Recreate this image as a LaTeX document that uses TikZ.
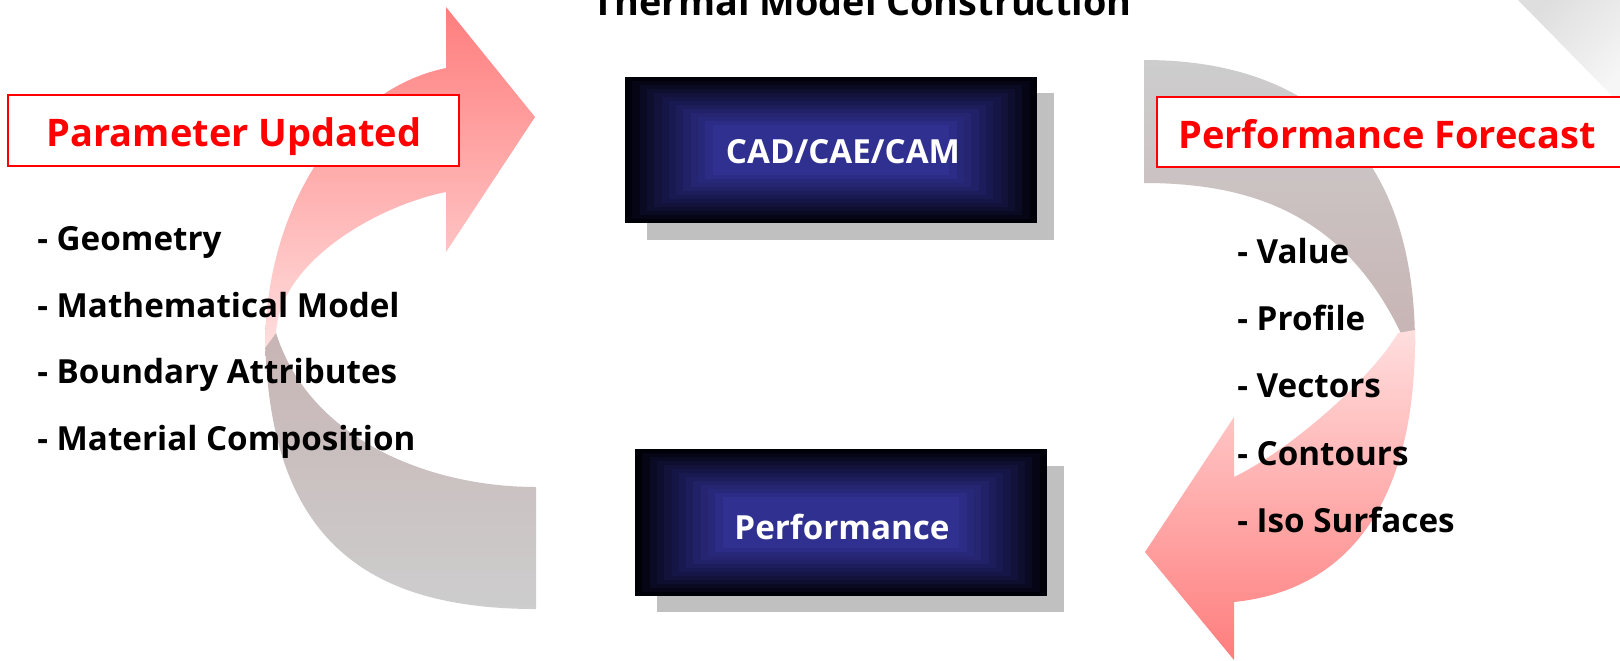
\documentclass[tikz,border=0pt]{standalone}
\usepackage{fontspec}
\setmainfont{Open Sans}
\definecolor{boxblue}{RGB}{48,48,145}
\definecolor{boxblack}{RGB}{0,0,8}
\definecolor{shadowgray}{RGB}{192,192,192}
\definecolor{lblred}{RGB}{255,0,0}
\definecolor{arrowred}{RGB}{255,125,125}
\definecolor{arrowpink}{RGB}{255,222,222}
\definecolor{arrowgray}{RGB}{205,205,205}
\definecolor{arrowgraypink}{RGB}{200,180,180}
\definecolor{curlgray}{RGB}{222,222,222}
\definecolor{curllight}{RGB}{246,246,246}
\tikzset{
  listtxt/.style={anchor=base west, inner sep=0pt, font=\fontsize{16.6}{20}\selectfont\bfseries},
  redlbl/.style={inner sep=0pt, text=lblred, font=\fontsize{19}{23}\selectfont\bfseries},
  boxlbl/.style={anchor=base, inner sep=0pt, text=white, font=\fontsize{16.6}{20}\selectfont\bfseries},
  titletxt/.style={anchor=base, inner sep=0pt, font=\fontsize{18.9}{23}\selectfont\bfseries},
  redframe/.style={draw=lblred, line width=1pt, fill=white},
  shadowrect/.style={fill=shadowgray},
}
\newcommand{\gradrect}[4]{%
  \foreach \k in {0,...,12}{%
    \pgfmathtruncatemacro{\p}{100*(\k/12)^0.9}%
    \fill[boxblue!\p!boxblack] (#1+\k*7.3, #2+\k*4) rectangle (#3-\k*7.3, #4-\k*4);
  }}
\begin{document}
\begin{tikzpicture}[x=0.5pt,y=-0.5pt]
\useasboundingbox (0,0) rectangle (1620,660);
\fill[white] (0,0) rectangle (1620,660);

% page curl, upper right
\shade[left color=curlgray, right color=curllight, shading angle=45]
  (1518,0) -- (1620,0) -- (1620,104) -- cycle;

% ---- left curved arrow ----
\shade[top color=arrowgraypink, bottom color=arrowgray]
  (265,325) .. controls (265,530) and (356,609) .. (536,609)
  -- (536,487) .. controls (430,487) and (310,440) .. (276,333) -- cycle;
\shade[top color=arrowred, bottom color=arrowpink]
  (265,348) .. controls (265,210) and (340,90) .. (446,68)
  -- (446,7) -- (535,117) -- (446,252) -- (446,192)
  .. controls (380,205) and (280,260) .. (276,333) -- cycle;

% ---- right curved arrow ----
\shade[top color=arrowgray, bottom color=arrowgraypink]
  (1144,60) .. controls (1300,60) and (1415,140) .. (1415,345)
  -- (1405,342) .. controls (1350,220) and (1260,183) .. (1144,183) -- cycle;
\shade[top color=arrowpink, bottom color=arrowred]
  (1398,333) -- (1415,330) .. controls (1417,500) and (1350,590) .. (1234,602)
  -- (1234,660) -- (1145,552) -- (1234,417) -- (1234,477)
  .. controls (1290,450) and (1370,380) .. (1398,333) -- cycle;

% ---- title ----
\node[titletxt] (title) at (862,15) {Thermal Model Construction};

% ---- red label boxes ----
\draw[redframe] (8,95) rectangle (459,166);
\node[redlbl, anchor=base] (param) at (234,146) {Parameter Updated};
\draw[redframe] (1157,97) rectangle (1630,167);
\node[redlbl, anchor=base west] (forecast) at (1178,148) {Performance Forecast};

% ---- blue boxes ----
\fill[shadowrect] (647,93) rectangle (1054,240);
\gradrect{625}{77}{1037}{223}
\node[boxlbl] (cad) at (843,163) {CAD/CAE/CAM};

\fill[shadowrect] (657,466) rectangle (1064,612);
\gradrect{635}{449}{1047}{596}
\node[boxlbl] (perf) at (842,539) {Performance};

% ---- lists ----
\node[listtxt] (l1) at (37,250) {- Geometry};
\node[listtxt] (l2) at (37,317) {- Mathematical Model};
\node[listtxt] (l3) at (37,383) {- Boundary Attributes};
\node[listtxt] (l4) at (37,450) {- Material Composition};

\node[listtxt] (r1) at (1237,263) {- Value};
\node[listtxt] (r2) at (1237,330) {- Profile};
\node[listtxt] (r3) at (1237,397) {- Vectors};
\node[listtxt] (r4) at (1237,465) {- Contours};
\node[listtxt] (r5) at (1237,532) {- Iso Surfaces};
\end{tikzpicture}
\end{document}
